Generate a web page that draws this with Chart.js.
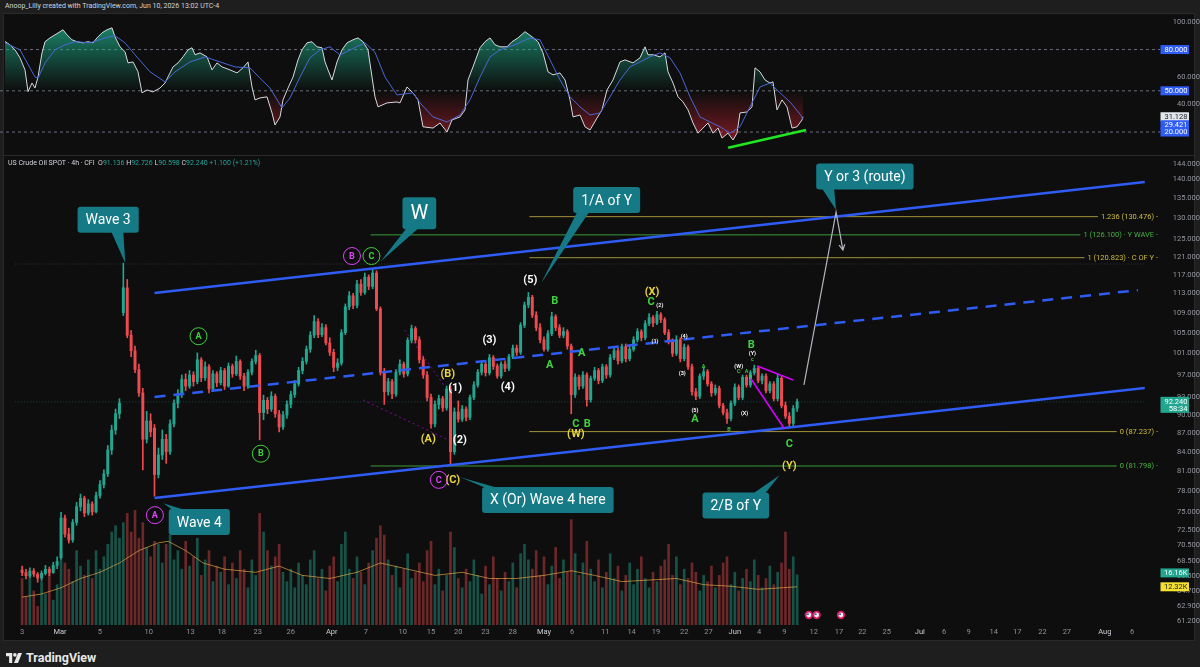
<!DOCTYPE html>
<html lang="en">
<head>
<meta charset="utf-8">
<title>US Crude Oil SPOT 4h</title>
<script src="https://cdn.jsdelivr.net/npm/chart.js@4.4.1/dist/chart.umd.min.js"></script>
<style>
  html, body { margin: 0; padding: 0; }
  body { width: 1200px; height: 667px; background: #1e1e1e; position: relative; overflow: hidden;
         font-family: Roboto, "Liberation Sans", Arial, sans-serif; }
  #frame { position: absolute; left: 3px; top: 13px; width: 1192px; height: 628px; background: #0e0e0e;
           border: 1px solid #2a2a2a; box-sizing: border-box; }
  #paneSep { position: absolute; left: 4px; top: 155px; width: 1190px; height: 1px; background: #2a2a2a; }
  canvas { position: absolute; left: 0; }
  #rsiCanvas { top: 13px; }
  #mainCanvas { top: 155px; }
  #credit { position: absolute; left: 5px; top: 2px; font-size: 7px; color: #d1d4dc; white-space: nowrap; }
  #legend { position: absolute; left: 8px; top: 159px; font-size: 7px; color: #d1d4dc; white-space: nowrap; }
  #legend .v { color: #26a69a; }
  #brand { position: absolute; left: 6px; top: 650px; display: flex; align-items: center; gap: 4px;
           color: #e8e8e8; font-size: 12.5px; font-weight: 700; }
</style>
</head>
<body>
<div id="frame"></div>
<canvas id="rsiCanvas" width="1200" height="142"></canvas>
<div id="paneSep"></div>
<canvas id="mainCanvas" width="1200" height="486"></canvas>
<div id="credit">Anoop_Lilly created with TradingView.com, Jun 10, 2026 13:02 UTC-4</div>
<div id="legend">US Crude Oil SPOT · 4h · CFI &nbsp;O<span class="v">91.136</span> H<span class="v">92.726</span> L<span class="v">90.598</span> C<span class="v">92.240</span> <span class="v">+1.100 (+1.21%)</span></div>
<div id="brand">
  <svg width="16" height="10" viewBox="0 0 36 22"><path d="M0 0h14v22H7V7H0z" fill="#e8e8e8"/><circle cx="20" cy="4" r="4" fill="#e8e8e8"/><path d="M27 0h9l-9 22h-9z" fill="#e8e8e8"/></svg>
  <span>TradingView</span>
</div>
<script>
// =====================================
// DATA - 4h bars
// =====================================
const opens = [
  67.3, 67.0, 66.6, 67.2, 66.8, 66.3, 66.9, 67.4, 67.0, 67.9,
  68.9, 74.2, 72.0, 71.2, 73.6, 75.8, 77.0, 74.9, 76.2, 75.1,
  77.4, 79.0, 80.6, 84.3, 87.5, 90.2, 109.0, 114.2, 104.5, 101.5,
  98.0, 93.8, 86.0, 89.0, 87.8, 80.5, 83.5, 86.0, 84.0, 88.5,
  92.0, 93.6, 96.2, 95.0, 97.0, 95.8, 99.8, 96.5, 98.5, 94.5,
  97.2, 95.6, 97.8, 95.0, 98.6, 97.2, 99.5, 96.8, 95.0, 97.5,
  99.5, 100.6, 90.4, 92.5, 91.0, 93.2, 90.2, 88.0, 90.0, 91.8,
  93.5, 95.4, 97.8, 99.5, 101.8, 104.5, 107.2, 104.6, 106.0, 103.0,
  101.2, 98.4, 99.2, 105.0, 110.2, 112.5, 110.5, 115.0, 113.2, 116.5,
  114.5, 117.4, 109.8, 97.5, 94.0, 95.8, 93.6, 97.5, 99.0, 97.2,
  103.5, 105.8, 103.6, 99.8, 97.0, 93.0, 88.5, 91.8, 92.8, 91.2,
  94.5, 84.0, 90.5, 89.3, 91.0, 89.6, 93.0, 95.2, 97.5, 99.0,
  97.4, 100.2, 98.6, 96.8, 99.0, 98.2, 100.4, 102.0, 101.2, 106.5,
  110.6, 112.2, 108.5, 106.0, 103.6, 101.8, 104.8, 108.2, 106.0, 104.5,
  105.2, 102.4, 93.5, 96.6, 95.0, 97.0, 92.6, 96.4, 97.8, 96.0,
  98.5, 97.0, 100.2, 101.5, 99.6, 102.3, 100.0, 101.8, 103.6, 105.2,
  104.0, 106.8, 108.0, 106.9, 108.6, 107.6, 105.0, 103.2, 101.0, 103.6,
  100.0, 102.2, 98.5, 94.0, 93.2, 96.8, 97.6, 95.4, 93.8, 94.6,
  91.6, 90.4, 89.4, 92.0, 94.8, 93.0, 96.6, 95.2, 97.4, 98.2,
  96.0, 96.8, 94.2, 95.4, 92.8, 96.4, 91.6, 89.8, 88.6, 91.136
];
const highs = [
  67.8, 67.4, 67.6, 67.5, 67.0, 67.2, 67.9, 67.7, 68.3, 69.0,
  75.0, 74.6, 72.8, 74.0, 76.4, 77.6, 77.3, 76.8, 76.5, 77.9,
  79.6, 81.2, 85.0, 88.3, 91.0, 92.8, 119.6, 116.0, 105.4, 102.4,
  99.0, 94.6, 90.6, 90.2, 88.4, 84.6, 87.5, 86.8, 89.2, 92.6,
  94.4, 97.0, 97.2, 97.8, 97.6, 101.1, 100.2, 99.4, 98.9, 97.8,
  97.6, 98.4, 98.2, 99.2, 99.0, 100.5, 99.8, 97.3, 98.0, 100.0,
  101.6, 101.0, 93.4, 93.0, 94.0, 93.6, 90.8, 90.6, 92.4, 94.1,
  96.0, 98.4, 100.2, 102.4, 105.2, 108.4, 107.8, 106.8, 106.6, 104.0,
  101.8, 100.0, 105.6, 110.8, 113.4, 113.0, 115.8, 116.0, 117.4, 117.0,
  118.4, 117.9, 110.2, 98.2, 96.4, 96.2, 98.0, 99.8, 99.4, 104.0,
  106.5, 106.2, 104.2, 100.4, 97.6, 93.6, 92.4, 93.4, 93.2, 95.0,
  95.0, 91.2, 92.4, 91.6, 91.4, 93.4, 95.8, 98.0, 99.6, 99.4,
  100.8, 100.6, 99.0, 99.4, 99.6, 100.8, 102.6, 102.6, 107.0, 111.2,
  113.2, 112.6, 109.2, 106.8, 104.2, 105.4, 109.1, 108.6, 106.6, 106.0,
  105.6, 102.8, 97.2, 97.0, 97.6, 97.4, 96.8, 98.4, 98.2, 99.0,
  98.9, 100.8, 102.2, 102.0, 102.8, 102.8, 102.4, 104.2, 105.8, 105.6,
  107.4, 108.8, 108.4, 109.3, 109.0, 108.0, 105.6, 103.8, 104.4, 104.0,
  102.8, 102.6, 99.0, 94.6, 97.2, 98.4, 98.0, 95.8, 95.2, 95.0,
  92.0, 91.0, 92.4, 95.4, 95.2, 97.0, 97.0, 97.8, 98.8, 98.6,
  97.2, 97.2, 95.8, 95.8, 97.3, 96.8, 92.2, 90.4, 91.6, 92.726
];
const lows = [
  66.6, 66.2, 66.4, 66.5, 65.8, 66.0, 66.7, 66.6, 66.9, 67.5,
  68.7, 71.6, 70.8, 70.9, 73.2, 75.2, 74.4, 74.6, 74.6, 74.9,
  77.0, 78.5, 80.2, 83.6, 86.8, 89.4, 108.4, 104.0, 100.4, 97.4,
  93.2, 81.2, 85.4, 86.4, 77.3, 80.0, 82.8, 82.2, 83.6, 88.0,
  91.2, 93.0, 94.2, 94.6, 95.0, 95.4, 95.8, 96.0, 93.8, 94.0,
  94.9, 95.2, 94.4, 94.8, 96.6, 96.9, 96.2, 94.2, 94.6, 97.0,
  99.0, 85.9, 89.2, 90.2, 90.6, 89.6, 87.2, 87.6, 89.4, 91.2,
  93.0, 95.0, 97.2, 99.0, 101.2, 104.0, 104.0, 104.2, 102.6, 100.6,
  97.6, 97.8, 98.8, 104.6, 109.6, 109.8, 110.0, 112.6, 112.8, 113.8,
  114.0, 109.4, 97.0, 91.8, 93.4, 92.8, 93.2, 97.0, 96.6, 96.8,
  103.0, 103.0, 99.2, 96.4, 92.4, 87.8, 88.0, 91.0, 90.6, 90.8,
  81.8, 83.6, 88.8, 88.9, 89.0, 89.2, 92.6, 94.8, 97.0, 96.8,
  97.0, 98.0, 96.4, 96.4, 97.6, 97.8, 100.0, 100.6, 100.8, 106.0,
  110.0, 108.0, 105.4, 103.0, 101.4, 101.4, 104.4, 105.4, 104.0, 104.0,
  101.8, 90.2, 93.0, 94.4, 94.6, 91.5, 92.2, 96.0, 95.4, 95.6,
  96.4, 96.6, 99.8, 99.0, 99.2, 99.4, 99.6, 101.4, 103.2, 103.4,
  103.6, 106.4, 106.2, 106.6, 107.0, 104.6, 102.8, 100.4, 100.6, 99.4,
  99.6, 98.0, 93.4, 92.6, 92.8, 96.2, 95.0, 93.2, 93.4, 91.2,
  90.0, 88.6, 89.0, 91.6, 92.6, 92.6, 94.8, 94.8, 97.0, 95.6,
  95.4, 93.8, 93.8, 92.4, 92.4, 91.2, 89.4, 87.9, 88.2, 90.598
];
const closes = [
  67.0, 66.6, 67.2, 66.8, 66.3, 66.9, 67.4, 67.0, 67.9, 68.4,
  74.2, 72.0, 71.2, 73.6, 75.8, 77.0, 74.9, 76.2, 75.1, 77.4,
  79.0, 80.6, 84.3, 87.5, 90.2, 92.0, 114.2, 104.5, 101.5, 98.0,
  93.8, 86.0, 89.0, 87.2, 80.5, 83.5, 86.0, 84.0, 88.5, 92.0,
  93.6, 96.2, 95.0, 97.0, 95.8, 99.8, 96.5, 98.5, 94.5, 97.2,
  95.6, 97.8, 95.0, 98.6, 97.2, 99.5, 96.8, 95.0, 97.5, 99.5,
  100.6, 90.4, 92.5, 91.0, 93.2, 90.2, 88.0, 90.0, 91.8, 93.5,
  95.4, 97.8, 99.5, 101.8, 104.5, 107.2, 104.6, 106.0, 103.0, 101.2,
  98.4, 99.2, 105.0, 110.2, 112.5, 110.5, 115.0, 113.2, 116.5, 114.5,
  117.4, 109.8, 97.5, 94.0, 95.8, 93.6, 97.5, 99.0, 97.2, 103.5,
  105.8, 103.6, 99.8, 97.0, 93.0, 88.5, 91.8, 92.8, 91.2, 94.5,
  84.0, 90.5, 89.3, 91.0, 89.6, 93.0, 95.2, 97.5, 99.0, 97.4,
  100.2, 98.6, 96.8, 99.0, 98.2, 100.4, 102.0, 101.2, 106.5, 110.6,
  112.2, 108.5, 106.0, 103.6, 101.8, 104.8, 108.2, 106.0, 104.5, 105.2,
  102.4, 93.5, 96.6, 95.0, 97.0, 92.6, 96.4, 97.8, 96.0, 98.5,
  97.0, 100.2, 101.5, 99.6, 102.3, 100.0, 101.8, 103.6, 105.2, 104.0,
  106.8, 108.0, 106.9, 108.6, 107.6, 105.0, 103.2, 101.0, 103.6, 100.0,
  102.2, 98.5, 94.0, 93.2, 96.8, 97.6, 95.4, 93.8, 94.6, 91.6,
  90.4, 89.4, 92.0, 94.8, 93.0, 96.6, 95.2, 97.4, 98.2, 96.0,
  96.8, 94.2, 95.4, 92.8, 96.4, 91.6, 89.8, 88.6, 91.1, 92.24
];
// volume in thousands
const volumes = [
  15, 9, 16, 11, 6, 14, 10, 17, 8, 13,
  23, 20, 18, 14, 24, 19, 16, 21, 15, 24,
  18, 22, 26, 30, 32, 28, 33, 36, 30, 37,
  28, 33, 25, 22, 27, 26, 20, 26, 29, 21,
  24, 18, 27, 19, 22, 28, 16, 21, 24, 14,
  19, 17, 22, 13, 20, 15, 24, 18, 12, 21,
  16, 36, 30, 24, 19, 22, 26, 17, 14, 18,
  12, 20, 16, 13, 21, 24, 15, 18, 11, 19,
  22, 14, 26, 30, 18, 15, 22, 17, 13, 20,
  24, 28, 32, 29, 21, 16, 19, 12, 18, 23,
  15, 17, 20, 14, 24, 27, 13, 18, 11, 16,
  30, 25, 15, 12, 18, 14, 21, 16, 10, 19,
  13, 22, 15, 11, 17, 14, 20, 12, 23, 26,
  21, 18, 24, 16, 22, 13, 19, 25, 15, 21,
  17, 34, 23, 16, 20, 27, 18, 14, 21, 12,
  17, 23, 15, 19, 11, 16, 20, 13, 18, 22,
  15, 12, 17, 14, 19, 21, 26, 16, 22, 13,
  18, 15, 20, 17, 11, 16, 14, 19, 12, 16,
  20, 22, 13, 17, 11, 15, 18, 14, 21, 16,
  12, 15, 19, 13, 17, 20, 30, 18, 22, 16.16
];
// volume moving average (bar index, thousands)
const volMaIdx = [0, 5, 10, 15, 20, 25, 30, 35, 37.5, 42, 46.5, 52, 60, 66, 72, 79, 86, 92, 99, 106,
  113, 120, 127, 134, 141, 147, 154, 161, 168, 175, 182, 189, 195, 199];
const volMaVal = [9, 10, 12, 15, 17, 20, 24, 26.5, 27, 24, 20, 18, 17, 19, 16, 15, 17, 20, 18, 16,
  17, 15, 15, 16, 17.5, 16, 14, 14.5, 15, 13, 12.5, 11.5, 12, 12.32];

// oscillator pane (bar index, value)
const rsiIdx = [-0.5, 0.75, 2, 3.25, 4.5, 5.25, 6.25, 7, 7.75, 8.75,
  9.5, 10.75, 12, 13.25, 14, 15, 16.25, 17.5, 19, 20.25,
  21.5, 22.5, 23.75, 25, 26.25, 27, 28.25, 29.5, 30.25, 31.5,
  32.75, 33.75, 35, 36.5, 38.25, 39.5, 40.75, 41.5, 42.75, 44,
  45.25, 46.25, 47, 48.25, 50, 51.25, 52.5, 53.75, 55.75, 57.5,
  59, 60.25, 61.25, 62, 63.25, 65, 66.25, 67, 68.25, 69,
  70.25, 71.5, 72.75, 73.75, 75, 76.25, 77.5, 78.75, 79.5, 80.25,
  81.25, 82.5, 83.75, 85, 86.5, 87.75, 89, 90.25, 91.25, 92,
  92.75, 95, 97.5, 98.25, 100, 101.5, 102.75, 104, 106.5, 108.25,
  110, 111.25, 113.25, 114.5, 115.25, 116.5, 118.25, 119.5, 120.75, 122,
  123.25, 125, 126.25, 127.75, 129.5, 131.25, 132.75, 134, 135.25, 136.5,
  138.25, 139.5, 140.75, 141.5, 143.25, 144.5, 145.75, 147.5, 148.75, 150,
  151.5, 153.25, 154.5, 156.5, 158.25, 159.5, 160.25, 161.5, 163.25, 164.5,
  165.25, 166.5, 167.75, 169, 170.25, 171.5, 172.75, 174, 175.25, 176.5,
  177.75, 178.75, 180.25, 181.5, 182.5, 183.25, 185, 186.25, 187, 188.25,
  189.5, 190.75, 191.5, 192.5, 193.75, 195, 196.25, 197.5, 198.75, 199];
const rsiVal = [85.9, 83.4, 79.8, 74, 65.2, 49.4, 55.7, 52, 60, 77.6,
  85.7, 88.5, 90.7, 93, 94.4, 90.7, 87.1, 85.7, 84.9, 85.7,
  84.9, 88.5, 92.2, 94.4, 95.8, 89.3, 82, 78.4, 70.3, 71,
  63.8, 48.5, 50.6, 49.2, 52, 55.7, 63, 67.4, 70.3, 74.7,
  79.8, 81.3, 76.2, 77.6, 74.7, 65.2, 70.3, 67.4, 65.2, 63,
  66.7, 71, 52.8, 43.4, 44.8, 45.6, 33.9, 25.1, 31, 43.4,
  52, 60, 72.5, 79.8, 84.9, 85.7, 82, 81.3, 71, 65.2,
  57.9, 71, 79.8, 84.9, 87.1, 88.5, 85.7, 79.8, 60, 45.6,
  38.3, 41.2, 41.9, 41.2, 52.8, 48.5, 43.4, 23.8, 22.9, 26.6,
  20, 28.8, 31, 36.1, 57.9, 67.4, 81.3, 85.7, 88.5, 83.5,
  82, 82, 85.7, 88.5, 93, 89.3, 85.7, 77.6, 63.8, 61.6,
  63, 57.9, 43.4, 31, 32.4, 23.8, 21.5, 30.2, 36.1, 50.6,
  57.9, 71, 72.5, 70.3, 74, 82, 76.2, 76.2, 74.7, 77.6,
  63.8, 55.7, 45.6, 41.9, 36.1, 26.6, 19.2, 22.9, 26.6, 19.2,
  22.9, 15.6, 19.2, 14.2, 19.2, 33.9, 34.6, 38.3, 66.7, 63.8,
  57.9, 55.7, 56.5, 36.1, 43.4, 38.3, 22.9, 23.8, 28.8, 31.128];
const rsiMaIdx = [-0.5, 3.25, 7, 7.75, 9.5, 12, 14.5, 17, 20.75, 24.5,
  27, 29.5, 32, 35.75, 39.5, 42, 45.75, 49.5, 53.25, 57,
  60.75, 63.25, 65.75, 68.75, 70.75, 73.25, 75.75, 78.25, 80.75, 83.25,
  85.75, 89.5, 92, 94.5, 97.5, 101.5, 103.25, 106.5, 110, 113.25,
  115.75, 118.25, 120.75, 123.25, 127, 130.75, 133.25, 135.75, 138.25, 140.75,
  143.25, 145.75, 148.25, 150.75, 153.25, 155.75, 158.25, 160.75, 163.25, 165.75,
  168.25, 170.75, 173.25, 175.75, 178.25, 180.75, 183.25, 185.75, 188.25, 190.75,
  193.25, 195.75, 198.25, 199];
const rsiMaVal = [84.9, 79.8, 60, 59.2, 70.3, 79.8, 83.5, 85.7, 84.9, 88.5,
  90, 84.9, 76.2, 63.8, 56.5, 63.8, 71, 74.7, 71, 67.4,
  66.7, 59.2, 52, 37.5, 44.8, 60, 74, 79.8, 82, 76,
  79.8, 84.9, 78, 60, 47, 48.5, 41.2, 31, 27.3, 32.4,
  43.4, 60, 74.7, 79.8, 83.5, 88.5, 87.1, 72.5, 57.9, 45.6,
  38.3, 32.4, 33.9, 45.6, 57.9, 67.4, 71, 74.7, 77.6, 74,
  63, 45.6, 31, 27.3, 23.8, 19.2, 23.8, 38.3, 52.8, 55.7,
  48.5, 41.9, 33, 29.421];
const rsiLevels = [80, 50, 20];
const rsiTicks = [100, 60, 40];

// time axis (bar index of each date label)
const tickPos = [0, 9.75, 20, 32.5, 43.25, 51.25, 60.5, 69, 79.5, 88.25, 97.75, 105, 112, 119, 126,
  134, 141.25, 149.75, 156.5, 162.75, 170, 176.25, 183, 189.25, 195.75, 203.25, 209.75, 215.75, 222,
  230.5, 236.75, 243, 249.5, 255.5, 262, 268.25, 278, 285];
const tickText = ['3', 'Mar', '5', '10', '13', '18', '23', '26', 'Apr', '7', '10', '15', '20', '23', '28',
  'May', '6', '11', '14', '19', '22', '27', 'Jun', '4', '9', '12', '17', '22', '25',
  'Jul', '6', '9', '14', '17', '22', '27', 'Aug', '6'];
const priceTicks = [144, 140, 135, 130, 125, 121, 117, 113, 109, 105, 101, 97, 93, 90, 87, 84, 81, 78,
  75, 72.5, 70.5, 68.5, 66.5, 64.7, 62.9, 61.2];

// fib levels
const fibPrice = [130.476, 126.1, 120.823, 87.237, 81.798];
const fibFrom = [130.25, 89.5, 130.25, 130.25, 89.5];
const fibText = ['1.236 (130.476) -', '1 (126.100) · Y WAVE -', '1 (120.823) · C OF Y -', '0 (87.237) -', '0 (81.798) -'];
const fibKind = ['y', 'g', 'y', 'y', 'g'];

// drawings: [bar index, price]
const upperChannel = [[34, 113.1], [288.25, 139.2]];
const lowerChannel = [[34, 77.04], [288.25, 94.67]];
const midChannel = [[34, 93.08], [286.5, 113.7]];
const wedgeTop = [[188.75, 98.64], [198, 96.09]];
const wedgeLow = [[187, 96.46], [195.75, 87.67]];
const dotA = [[87.5, 92.57], [109.5, 85.88]];
const dotB = [[98.25, 105.5], [108.25, 95.2]];
const routePath = [[200.75, 95.2], [209, 131.6], [210.75, 122.6]];
const divergence = [[180.3, 8.6], [199.75, 21.5]];

// wave labels: text, bar index, price, colour, style
const waveLabels = [
  ['(C)', 110.6, 79.7, 'y', 'm'], ['(5)', 130.5, 115.9, 'w', 'm'], ['B', 136.75, 111.4, 'g', 'm'],
  ['(3)', 120, 103.6, 'w', 'm'], ['(4)', 124.7, 94.8, 'w', 'm'], ['A', 135.5, 98.8, 'g', 'm'],
  ['A', 143.7, 101.1, 'g', 'm'], ['(B)', 109.3, 97.2, 'y', 'm'], ['(1)', 111.2, 94.7, 'w', 'm'],
  ['(A)', 104.3, 86.0, 'y', 'm'], ['(2)', 112.4, 85.9, 'w', 'm'], ['C', 142.2, 88.5, 'g', 'm'],
  ['B', 145.1, 88.5, 'g', 'm'], ['(W)', 142.2, 86.8, 'y', 'm'], ['(X)', 161.75, 113.3, 'y', 'm'],
  ['C', 161.5, 111.2, 'g', 'm'], ['(2)', 163.75, 110.4, 'w', 's'], ['(1)', 162.5, 103.2, 'w', 's'],
  ['(4)', 170, 104.2, 'w', 's'], ['(3)', 169.5, 97.2, 'w', 's'], ['A', 175, 98.5, 'g', 's'],
  ['(5)', 172.75, 90.7, 'w', 's'], ['A', 172.75, 89.3, 'g', 'm'], ['B', 181.5, 87.5, 'g', 's'],
  ['(W)', 184, 98.6, 'w', 's'], ['C', 184, 97.7, 'g', 's'], ['A', 186, 97.7, 'g', 's'],
  ['B', 187.25, 102.6, 'g', 'm'], ['(Y)', 187.5, 100.9, 'w', 's'], ['c', 187.5, 99.9, 'g', 's'],
  ['B', 187, 96.5, 'g', 's'], ['(X)', 185.5, 90.3, 'w', 's'], ['C', 197, 85.2, 'g', 'm'],
  ['(Y)', 197, 81.8, 'y', 'm']
];
const circleLabels = [
  ['A', 34.1, 74.6, 'p'], ['B', 84.7, 121.2, 'p'], ['C', 89.7, 121.2, 'g'],
  ['A', 45.3, 104.3, 'g'], ['B', 61.3, 83.7, 'g'], ['C', 107, 79.7, 'p']
];
// callouts: text, box centre [index, price], pointer tip [index, price], style
const callouts = [
  ['Wave 3', 22.1, 129.7, 26.5, 119.6, 'n'],
  ['W', 102, 131.3, 92, 119.9, 'big'],
  ['1/A of Y', 150.1, 134.6, 133.25, 115.2, 'n'],
  ['Y or 3 (route)', 216.4, 140.7, 209, 132.1, 'n'],
  ['X (Or) Wave 4 here', 135, 76.75, 112.5, 80.1, 'n'],
  ['2/B of Y', 183.25, 75.97, 194.5, 80.4, 'n'],
  ['Wave 4', 45.5, 73.65, 36.25, 76.3, 'n']
];
const eventIdx = [202, 204, 210.25];

// =====================================
// STYLE
// =====================================
const FONT = 'Roboto, "Liberation Sans", Arial, sans-serif';
const UP = '#22a68f', DOWN = '#ef4a4f';
const COLORS = { y: '#e8d53a', g: '#3fd43f', w: '#ffffff', p: '#e040fb' };
const FIB_LINE = { y: '#a3943a', g: '#3c9a3c' };
const FIB_TEXT = { y: '#cdbb3c', g: '#45b045' };
const BLUE = '#2f5cf5';
const CALLOUT_BG = '#157a85';
const X_MIN = -1.75, X_MAX = 288.25;

const bars = closes.map((c, i) => i);
const isUp = i => closes[i] >= opens[i];

function seg(points, color, width, dash, order, axis) {
  return {
    type: 'line',
    data: points.map(p => ({ x: p[0], y: p[1] })),
    borderColor: color, borderWidth: width, borderDash: dash || [],
    pointRadius: 0, fill: false, tension: 0,
    yAxisID: axis || 'y', order: order
  };
}

function drawTag(ctx, x0, yc, text, bg, fg, h) {
  h = h || 9;
  ctx.fillStyle = bg;
  ctx.fillRect(x0 + 0.5, yc - h / 2, 28.5, h);
  ctx.fillStyle = fg;
  ctx.font = '7.5px ' + FONT;
  ctx.textAlign = 'right';
  ctx.textBaseline = 'middle';
  ctx.fillText(text, x0 + 27.5, yc + 0.5);
}

// =====================================
// MAIN PANE DECORATIONS
// =====================================
const mainDecor = {
  id: 'mainDecor',
  afterDatasetsDraw(chart) {
    const { ctx, chartArea: area, scales } = chart;
    const px = v => scales.x.getPixelForValue(v);
    const py = v => scales.y.getPixelForValue(v);
    ctx.save();
    ctx.beginPath();
    ctx.rect(area.left, area.top, area.right - area.left, area.bottom - area.top);
    ctx.clip();

    // fib captions
    ctx.font = '7.5px ' + FONT;
    ctx.textAlign = 'right';
    ctx.textBaseline = 'middle';
    fibPrice.forEach((p, k) => {
      const y = py(p);
      const w = ctx.measureText(fibText[k]).width;
      ctx.fillStyle = '#0e0e0e';
      ctx.fillRect(area.right - w - 5, y - 4, w + 5, 8);
      ctx.fillStyle = FIB_TEXT[fibKind[k]];
      ctx.fillText(fibText[k], area.right - 2, y + 0.5);
    });

    // arrow head at the end of the projected route
    const n = routePath.length;
    const x1 = px(routePath[n - 2][0]), y1 = py(routePath[n - 2][1]);
    const x2 = px(routePath[n - 1][0]), y2 = py(routePath[n - 1][1]);
    const ang = Math.atan2(y2 - y1, x2 - x1);
    ctx.strokeStyle = '#b2b5be';
    ctx.lineWidth = 1.2;
    ctx.beginPath();
    ctx.moveTo(x2 - 6 * Math.cos(ang - 0.5), y2 - 6 * Math.sin(ang - 0.5));
    ctx.lineTo(x2, y2);
    ctx.lineTo(x2 - 6 * Math.cos(ang + 0.5), y2 - 6 * Math.sin(ang + 0.5));
    ctx.stroke();

    // wave labels
    ctx.textAlign = 'center';
    waveLabels.forEach(l => {
      ctx.font = (l[4] === 's' ? '600 5.5px ' : '700 11px ') + FONT;
      ctx.fillStyle = COLORS[l[3]];
      ctx.fillText(l[0], px(l[1]), py(l[2]));
    });

    // circled labels
    circleLabels.forEach(l => {
      const x = px(l[1]), y = py(l[2]);
      ctx.strokeStyle = COLORS[l[3]];
      ctx.lineWidth = 1;
      ctx.beginPath();
      ctx.arc(x, y, 8.5, 0, Math.PI * 2);
      ctx.stroke();
      ctx.fillStyle = COLORS[l[3]];
      ctx.font = '700 9px ' + FONT;
      ctx.fillText(l[0], x, y + 0.5);
    });

    // callouts
    callouts.forEach(c => {
      const size = c[5] === 'big' ? 20 : 14;
      ctx.font = size + 'px ' + FONT;
      const w = ctx.measureText(c[0]).width + 16;
      const h = size + 12;
      const cx = px(c[1]), cy = py(c[2]);
      const tx = px(c[3]), ty = py(c[4]);
      const l = cx - w / 2, t = cy - h / 2;
      ctx.fillStyle = CALLOUT_BG;
      ctx.beginPath();
      if (ctx.roundRect) ctx.roundRect(l, t, w, h, 3); else ctx.rect(l, t, w, h);
      ctx.fill();
      const edge = ty > cy ? t + h - 1 : t + 1;
      const bx = Math.min(Math.max(tx - 8, l + 10), l + w - 10);
      ctx.beginPath();
      ctx.moveTo(bx - 6, edge);
      ctx.lineTo(tx, ty);
      ctx.lineTo(bx + 6, edge);
      ctx.closePath();
      ctx.fill();
      ctx.fillStyle = '#ffffff';
      ctx.textBaseline = 'middle';
      ctx.fillText(c[0], cx, cy + 1);
    });

    // economic event markers on the time line
    eventIdx.forEach(i => {
      const x = px(i), y = area.bottom - 10;
      ctx.fillStyle = '#d81b60';
      ctx.beginPath(); ctx.arc(x, y, 4.2, 0, Math.PI * 2); ctx.fill();
      ctx.fillStyle = '#f1f1f1';
      ctx.beginPath(); ctx.arc(x, y, 2.4, 0, Math.PI * 2); ctx.fill();
      ctx.fillStyle = '#3559c7';
      ctx.fillRect(x - 2, y - 1.6, 2, 1.6);
    });
    ctx.restore();
  },
  afterDraw(chart) {
    const { ctx, chartArea: area, scales } = chart;
    const last = closes.length - 1;
    const yLast = scales.y.getPixelForValue(closes[last]);
    ctx.save();
    ctx.fillStyle = UP;
    ctx.fillRect(area.right + 0.5, yLast - 5, 28.5, 16);
    ctx.fillStyle = '#ffffff';
    ctx.font = '7.5px ' + FONT;
    ctx.textAlign = 'right';
    ctx.textBaseline = 'middle';
    ctx.fillText(closes[last].toFixed(3), area.right + 27.5, yLast);
    ctx.fillText('58:34', area.right + 27.5, yLast + 7);
    const yv = scales.yv;
    drawTag(ctx, area.right, yv.getPixelForValue(volumes[last]) - 2, volumes[last].toFixed(2) + 'K', UP, '#ffffff');
    drawTag(ctx, area.right, yv.getPixelForValue(volMaVal[volMaVal.length - 1]), volMaVal[volMaVal.length - 1].toFixed(2) + 'K', '#f5e12f', '#131722');
    ctx.restore();
  }
};

// =====================================
// MAIN PRICE CHART
// =====================================
const mainDatasets = [
  seg(midChannel, BLUE, 2.5, [11, 8], 1),
  seg(upperChannel, BLUE, 2.5, [], 1),
  seg(lowerChannel, BLUE, 2.5, [], 1),
  seg(wedgeTop, '#d500f9', 1.6, [], 0),
  seg(wedgeLow, '#d500f9', 1.6, [], 0),
  seg(dotA, 'rgba(213,0,249,0.6)', 1, [2, 3], 0),
  seg(dotB, 'rgba(213,0,249,0.6)', 1, [2, 3], 0),
  seg(routePath, '#b2b5be', 1.2, [], 0),
  seg([[X_MIN, 119.4], [X_MAX, 119.4]], 'rgba(120,123,134,0.35)', 1, [1, 2], 7),
  seg([[X_MIN, closes[closes.length - 1]], [X_MAX, closes[closes.length - 1]]], 'rgba(38,166,154,0.4)', 1, [1, 2], 7),
  seg(volMaIdx.map((x, k) => [x, volMaVal[k]]), 'rgba(255,183,77,0.6)', 1, [], 4, 'yv')
];
fibPrice.forEach((p, k) => {
  mainDatasets.push(seg([[fibFrom[k], p], [X_MAX, p]], FIB_LINE[fibKind[k]], 1, [], 6));
});
mainDatasets.push({
  type: 'bar', order: 5, yAxisID: 'yv', grouped: false, barThickness: 2,
  data: bars.map(i => ({ x: i, y: volumes[i] })),
  backgroundColor: c => isUp(c.dataIndex) ? 'rgba(34,166,143,0.45)' : 'rgba(239,74,79,0.42)'
});
mainDatasets.push({
  type: 'bar', order: 3, yAxisID: 'y', grouped: false, barThickness: 1,
  data: bars.map(i => ({ x: i, y: [lows[i], highs[i]] })),
  backgroundColor: c => isUp(c.dataIndex) ? UP : DOWN
});
mainDatasets.push({
  type: 'bar', order: 2, yAxisID: 'y', grouped: false, barThickness: 2.3, minBarLength: 1,
  data: bars.map(i => ({ x: i, y: [opens[i], closes[i]] })),
  backgroundColor: c => isUp(c.dataIndex) ? UP : DOWN
});

new Chart(document.getElementById('mainCanvas'), {
  type: 'bar',
  data: { datasets: mainDatasets },
  options: {
    responsive: false, animation: false, events: [],
    layout: { padding: 0 },
    plugins: { legend: { display: false }, tooltip: { enabled: false } },
    scales: {
      x: {
        type: 'linear', min: X_MIN, max: X_MAX,
        grid: { display: false, drawTicks: false }, border: { display: false },
        afterBuildTicks: s => { s.ticks = tickPos.map(v => ({ value: v })); },
        afterFit: s => { s.height = 16; s.paddingLeft = 0; s.paddingRight = 0; },
        ticks: {
          autoSkip: false, maxRotation: 0, minRotation: 0, padding: 3,
          callback: (v, i) => tickText[i],
          color: c => /[A-Z]/.test(tickText[c.index] || '') ? '#c9ccd4' : '#8f929b',
          font: { size: 7.5, family: FONT }
        }
      },
      y: {
        type: 'logarithmic', position: 'right', min: 60.73, max: 146.45,
        grid: { display: false, drawTicks: false }, border: { display: false },
        afterBuildTicks: s => { s.ticks = priceTicks.map(v => ({ value: v })); },
        afterFit: s => { s.width = 40; s.paddingTop = 0; s.paddingBottom = 0; },
        ticks: {
          crossAlign: 'far', padding: 3,
          callback: v => Number(v).toFixed(3),
          color: '#9598a1', font: { size: 7.5, family: FONT }
        }
      },
      yv: { type: 'linear', min: 0, max: 151.6, display: false }
    }
  },
  plugins: [mainDecor]
});

// =====================================
// OSCILLATOR PANE
// =====================================
const rsiDecor = {
  id: 'rsiDecor',
  afterDraw(chart) {
    const { ctx, chartArea: area, scales: { y } } = chart;
    const lastV = rsiVal[rsiVal.length - 1], lastM = rsiMaVal[rsiMaVal.length - 1];
    ctx.save();
    drawTag(ctx, area.right, y.getPixelForValue(80), '80.000', BLUE, '#ffffff');
    drawTag(ctx, area.right, y.getPixelForValue(50), '50.000', BLUE, '#ffffff');
    drawTag(ctx, area.right, y.getPixelForValue(20), '20.000', BLUE, '#ffffff');
    const yL = y.getPixelForValue(lastV);
    drawTag(ctx, area.right, yL, lastV.toFixed(3), '#e3e5ea', '#131722');
    drawTag(ctx, area.right, Math.max(y.getPixelForValue(lastM), yL + 8), lastM.toFixed(3), BLUE, '#ffffff');
    ctx.restore();
  }
};

const rsiDatasets = rsiLevels.map(v => seg([[X_MIN, v], [X_MAX, v]], '#6a6d78', 1, [3, 3], 3));
rsiDatasets.push({
  type: 'line', order: 1, yAxisID: 'y',
  data: rsiIdx.map((x, k) => ({ x, y: rsiVal[k] })),
  borderColor: '#d7d9df', borderWidth: 1, pointRadius: 0, tension: 0,
  fill: { value: 50 },
  backgroundColor: c => {
    const { chart } = c;
    if (!chart.chartArea) return 'transparent';
    const y = chart.scales.y;
    const g = chart.ctx.createLinearGradient(0, y.getPixelForValue(100), 0, y.getPixelForValue(0));
    g.addColorStop(0, 'rgba(30,170,135,0.8)');
    g.addColorStop(0.5, 'rgba(30,170,135,0)');
    g.addColorStop(0.5, 'rgba(230,40,55,0)');
    g.addColorStop(1, 'rgba(230,40,55,0.7)');
    return g;
  }
});
rsiDatasets.push(seg(rsiMaIdx.map((x, k) => [x, rsiMaVal[k]]), '#4a68d8', 1, [], 0));
rsiDatasets.push(seg(divergence, '#22e622', 2.4, [], 0));

new Chart(document.getElementById('rsiCanvas'), {
  type: 'line',
  data: { datasets: rsiDatasets },
  options: {
    responsive: false, animation: false, events: [],
    layout: { padding: 0 },
    plugins: { legend: { display: false }, tooltip: { enabled: false } },
    scales: {
      x: { type: 'linear', min: X_MIN, max: X_MAX, display: false },
      y: {
        type: 'linear', position: 'right', min: 3.3, max: 106.6,
        grid: { display: false, drawTicks: false }, border: { display: false },
        afterBuildTicks: s => { s.ticks = rsiTicks.map(v => ({ value: v })); },
        afterFit: s => { s.width = 40; s.paddingTop = 0; s.paddingBottom = 0; },
        ticks: {
          crossAlign: 'far', padding: 3,
          callback: v => Number(v).toFixed(3),
          color: '#9598a1', font: { size: 7.5, family: FONT }
        }
      }
    }
  },
  plugins: [rsiDecor]
});
</script>
</body>
</html>
